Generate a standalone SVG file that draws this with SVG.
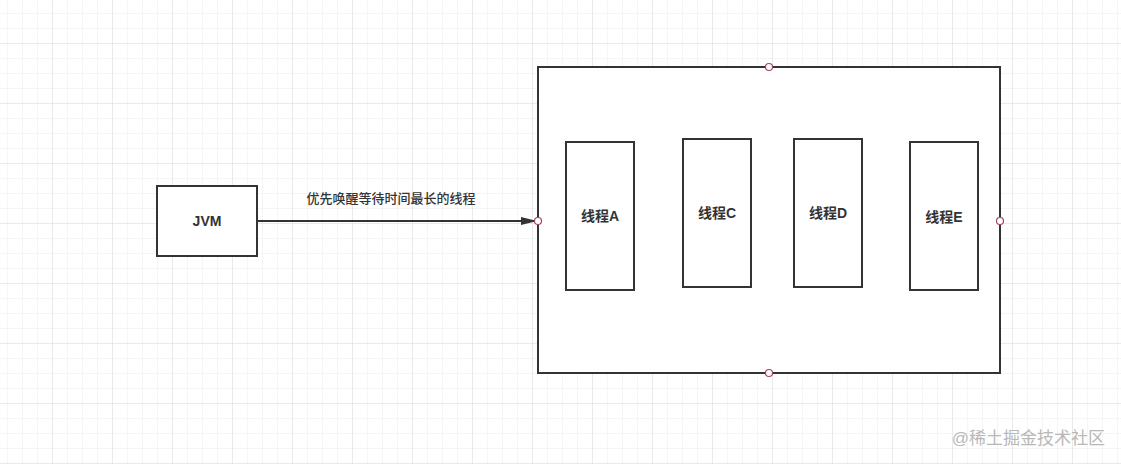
<svg xmlns="http://www.w3.org/2000/svg" width="1121" height="464" viewBox="0 0 1121 464">
<defs>
<pattern id="minor" x="7" y="13" width="15" height="15" patternUnits="userSpaceOnUse">
<path d="M0 0H15M0 0V15" fill="none" stroke="#ececec" stroke-width="1"/>
</pattern>
<pattern id="major" x="52" y="43" width="60" height="60" patternUnits="userSpaceOnUse">
<path d="M0 0H60M0 0V60" fill="none" stroke="#e0e0e0" stroke-width="1"/>
</pattern>
<marker id="arrow" viewBox="0 0 10 10" refX="10" refY="5" markerWidth="16" markerHeight="8" markerUnits="userSpaceOnUse" orient="auto" preserveAspectRatio="none">
<path d="M0 0L10 5L0 10Z" fill="#333"/>
</marker>
</defs>
<style>
.box{fill:#fff;stroke:#333;stroke-width:2}
.lbl{font-family:"Liberation Sans","Noto Sans CJK SC",sans-serif;font-weight:bold;font-size:14px;fill:#333;text-anchor:middle}
.pt{fill:#fff;stroke:#a0495a;stroke-width:1.2}
</style>
<rect width="1121" height="464" fill="#fff"/>
<rect width="1121" height="464" fill="url(#minor)"/>
<rect width="1121" height="464" fill="url(#major)"/>
<g id="container">
<rect class="box" x="538" y="67" width="462" height="306"/>
</g>
<g id="jvm">
<rect class="box" x="157" y="186" width="100" height="70"/>
<text class="lbl" x="207" y="226">JVM</text>
</g>
<g id="threadA">
<rect class="box" x="566" y="142" width="68" height="148"/>
<text class="lbl" x="600" y="221">线程A</text>
</g>
<g id="threadC">
<rect class="box" x="683" y="139" width="68" height="148"/>
<text class="lbl" x="717" y="218">线程C</text>
</g>
<g id="threadD">
<rect class="box" x="794" y="139" width="68" height="148"/>
<text class="lbl" x="828" y="218">线程D</text>
</g>
<g id="threadE">
<rect class="box" x="910" y="142" width="68" height="148"/>
<text class="lbl" x="944" y="222">线程E</text>
</g>
<g id="connectors">
<line x1="257" y1="221" x2="537" y2="221" stroke="#333" stroke-width="2" marker-end="url(#arrow)"/>
<text x="391" y="203" font-family="'Liberation Sans','Noto Sans CJK SC',sans-serif" font-size="13" font-weight="500" fill="#333" text-anchor="middle">优先唤醒等待时间最长的线程</text>
</g>
<g id="points">
<circle class="pt" cx="769" cy="67" r="3.5"/>
<circle class="pt" cx="538" cy="221" r="3.5"/>
<circle class="pt" cx="1000" cy="221" r="3.5"/>
<circle class="pt" cx="769" cy="373" r="3.5"/>
</g>
<text x="1105" y="444" font-family="'Liberation Sans','Noto Sans CJK SC',sans-serif" font-size="17" fill="#b8b8b8" text-anchor="end">@稀土掘金技术社区</text>
</svg>
